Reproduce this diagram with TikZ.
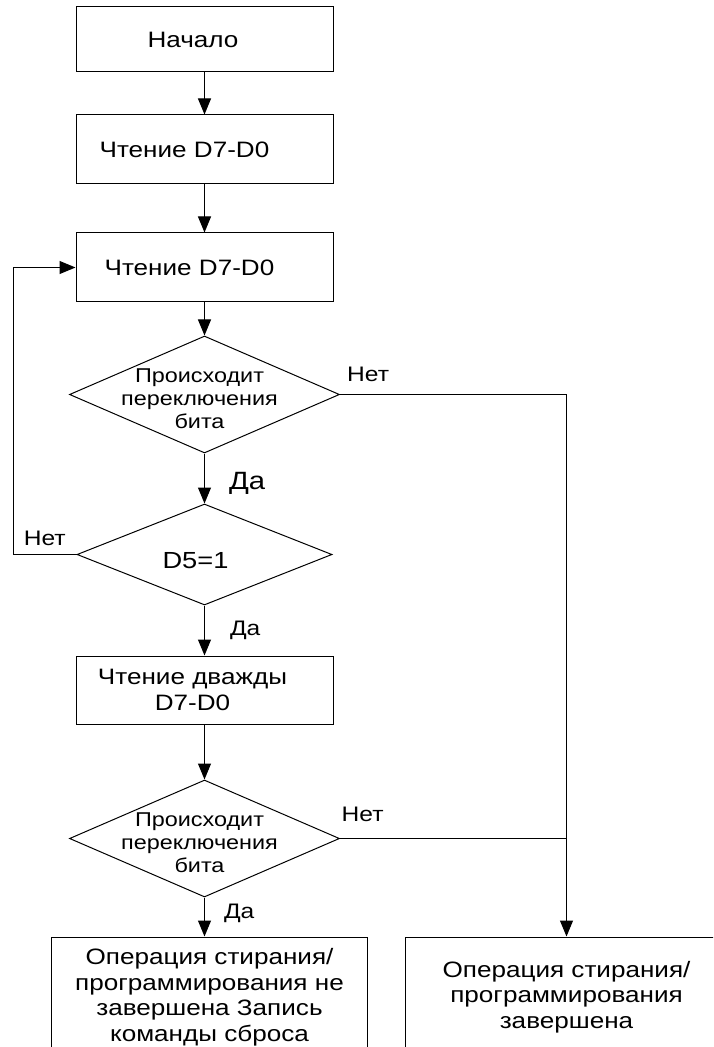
\documentclass[tikz,border=0pt]{standalone}
\usepackage{fontspec}
\setmainfont{Liberation Sans}[FakeStretch=1.17]
\usepackage{tikz}
\usetikzlibrary{arrows.meta,positioning,shapes.geometric}

\begin{document}
\begin{tikzpicture}[
        x=0.5pt, y=-0.5pt,
        node distance=24pt,
        >={Triangle[length=8pt,width=6.5pt]},
        box/.style={rectangle, draw, line width=0.5pt, minimum width=128.5pt, minimum height=34.5pt, inner sep=0pt, align=center, font=\fontsize{11.15}{12.75}\selectfont},
        lshift/.style={execute at end node={\hspace*{#1}}},
        decision/.style={diamond, draw, line width=0.5pt, minimum width=135pt, minimum height=58.5pt, inner sep=0pt},
        dtext/.style={align=center, font=\fontsize{10}{11.5}\selectfont},
        lbl/.style={inner sep=1pt, font=\fontsize{10.5}{12}\selectfont},
        line/.style={line width=0.5pt}
    ]
        \useasboundingbox (0,0) rectangle (713,1047);
        \clip (0,0) rectangle (713,1047);

        \node[box, lshift=11.5pt, minimum height=32.5pt] (start) at (204.5,39.5) {Начало};
        \node[box, lshift=20pt, below=21pt of start] (read1) {Чтение D7-D0};
        \node[box, lshift=15pt, below=of read1] (read2) {Чтение D7-D0};
        \node[decision, below=16.5pt of read2, label={[dtext, xshift=-2.5pt, yshift=-2pt]center:Происходит\\переключения\\бита}] (toggle1) {};
        \node[decision, below=25pt of toggle1, minimum width=127.5pt, minimum height=50.5pt, label={[font=\fontsize{11.65}{13}\selectfont, xshift=-4.5pt, yshift=-3pt]center:D5=1}] (bit5) {};
        \node[box, below=25pt of bit5, minimum height=34pt] (read3) {Чтение дважды\hspace*{12pt}\\D7-D0\hspace*{12pt}};
        \node[decision, below=27.5pt of read3, label={[dtext, xshift=-2.5pt, yshift=-2pt]center:Происходит\\переключения\\бита}] (toggle2) {};
        \node[box, below=19.5pt of toggle2, xshift=2.5pt, minimum width=158pt, minimum height=60pt] (fail) {Операция стирания/\\программирования не\\завершена Запись\\команды сброса};
        \node[box, right=18.5pt of fail, minimum width=161pt, minimum height=60pt] (done) {Операция стирания/\\программирования\\завершена};
        \coordinate (back) at (13,0);

        \draw[->,line] (start) -- (read1);
        \draw[->,line] (read1) -- (read2);
        \draw[->,line] (read2) -- (toggle1);
        \draw[->,line] (toggle1) -- node[lbl, pos=0.6, right=11pt, font=\fontsize{12.5}{14}\selectfont] {Да} (bit5);
        \draw[->,line] (bit5) -- node[lbl, pos=0.5, right=11.5pt] {Да} (read3);
        \draw[->,line] (read3) -- (toggle2);
        \draw[->,line] (toggle2.south) -- node[lbl, pos=0.4, right=8.5pt] {Да} (toggle2.south |- fail.north);
        \draw[->,line] (toggle1.east) -| node[lbl, pos=0.062, above=5pt] {Нет} (done.north);
        \draw[line] (toggle2.east) -- node[lbl, pos=0.1, above=7pt] {Нет} (toggle2.east -| done.north);
        \draw[->,line] (bit5.west) -- node[lbl, midway, above=3pt] {Нет} (bit5.west -| back) |- (read2.west);
    \end{tikzpicture}
\end{document}
